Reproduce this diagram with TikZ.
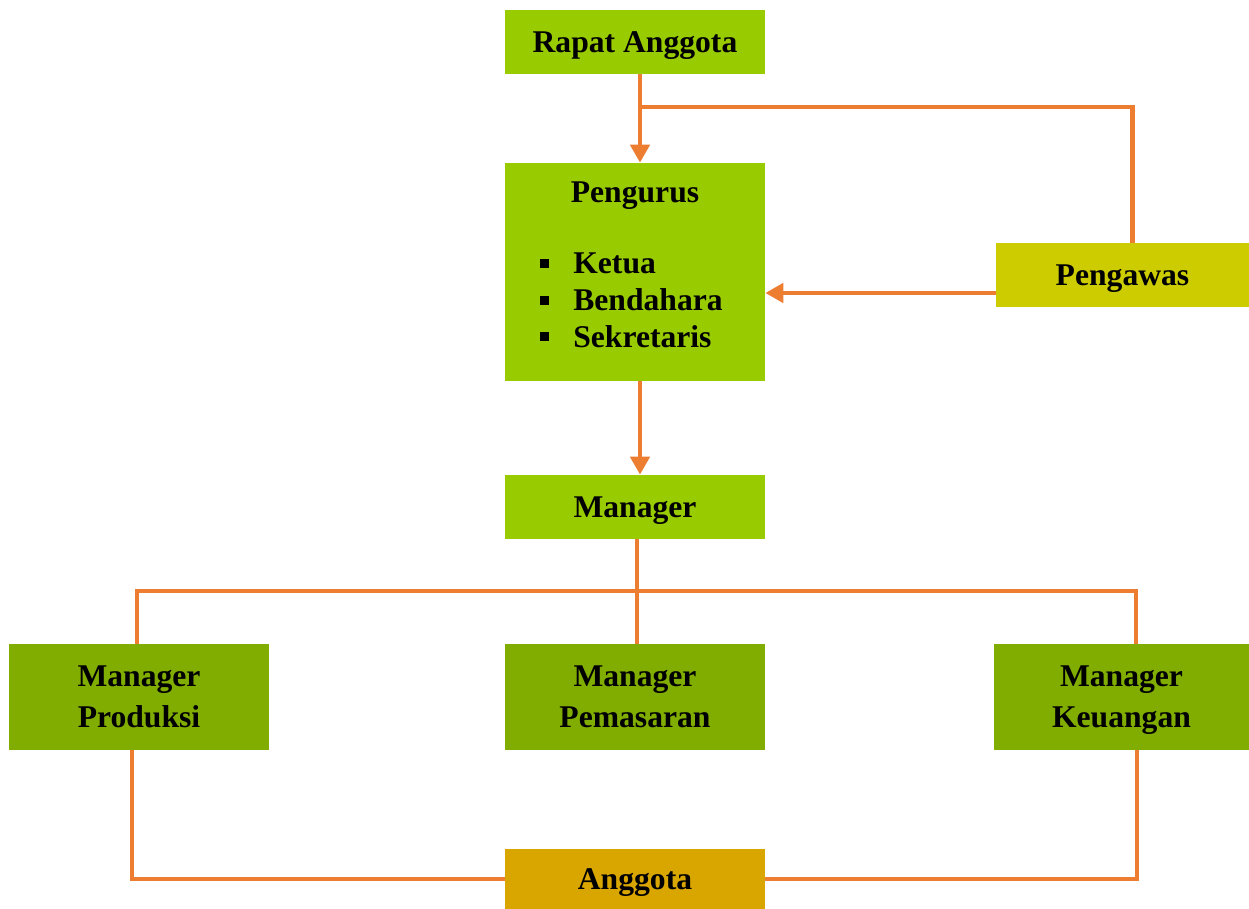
\documentclass[tikz,border=0pt]{standalone}
\usepackage{fontspec}
\setmainfont{Liberation Serif}
\usetikzlibrary{arrows.meta}
\definecolor{hijau}{HTML}{99CC00}
\definecolor{kuning}{HTML}{CCCC00}
\definecolor{hijautua}{HTML}{80AD00}
\definecolor{emas}{HTML}{D9A600}
\definecolor{oranye}{HTML}{ED7D31}
\begin{document}
\begin{tikzpicture}[x=0.02cm,y=-0.02cm,
        kotak/.style={fill=#1, minimum width=5.2cm, minimum height=1.28cm, inner sep=0pt,
            font=\bfseries\fontsize{18}{23.3}\selectfont, align=center},
        satu/.style={text height=0.56cm, text depth=0.14cm},
        garis/.style={draw=oranye, line width=2.8pt},
        panah/.style={garis, -{Triangle[length=0.36cm,width=0.38cm]}}]

        \useasboundingbox (0,0) rectangle (1249,909);

        \node[kotak=hijau, satu] (ra) at (635,42) {Rapat Anggota};
        \node[kotak=hijau, minimum height=4.36cm] (pg) at (635,272) {};
        \node[anchor=base, font=\bfseries\fontsize{18}{23.3}\selectfont] (pgjudul) at (635,203) {Pengurus};
        \node[anchor=base west, inner sep=0pt, font=\bfseries\fontsize{18}{20.8}\selectfont] (pglist) at (540,274)
            {\begin{tabular}[t]{@{}l@{\hspace{0.48cm}}l@{}}
                \rule[0.12cm]{0.18cm}{0.18cm} & Ketua\\
                \rule[0.12cm]{0.18cm}{0.18cm} & Bendahara\\
                \rule[0.12cm]{0.18cm}{0.18cm} & Sekretaris
            \end{tabular}};
        \node[kotak=kuning, satu, minimum width=5.06cm] (pw) at (1122.5,275) {Pengawas};
        \node[kotak=hijau, satu] (mg) at (635,507) {Manager};
        \node[kotak=hijautua, minimum height=2.12cm] (mp) at (139,697) {Manager\\Produksi};
        \node[kotak=hijautua, minimum height=2.12cm] (mm) at (635,697) {Manager\\Pemasaran};
        \node[kotak=hijautua, minimum height=2.12cm, minimum width=5.1cm, text depth=0pt] (mk) at (1121.5,697) {Manager\\Keuangan};
        \node[kotak=emas, satu, minimum height=1.2cm] (ag) at (635,879) {Anggota};

        \coordinate (cabang) at (640,107);
        \coordinate (bagi) at (637,591);

        \draw[panah] ([xshift=0.1cm]ra.south) -- ([xshift=0.1cm]pg.north);
        \draw[garis] (cabang) -| ([xshift=0.2cm]pw.north);
        \draw[panah] ([yshift=-0.36cm]pw.west) -- ([yshift=-0.36cm]pw.west -| pg.east);
        \draw[panah] ([xshift=0.1cm]pg.south) -- ([xshift=0.1cm]mg.north);
        \draw[garis] ([xshift=0.04cm]mg.south) -- ([xshift=0.04cm]mm.north);
        \draw[garis] ([xshift=-0.04cm]mp.north) |- ([xshift=0.29cm]mk.north |- bagi) -- ([xshift=0.29cm]mk.north);
        \draw[garis] ([xshift=-0.14cm]mp.south) |- (ag.west);
        \draw[garis] ([xshift=0.31cm]mk.south) |- (ag.east);
    \end{tikzpicture}
\end{document}
